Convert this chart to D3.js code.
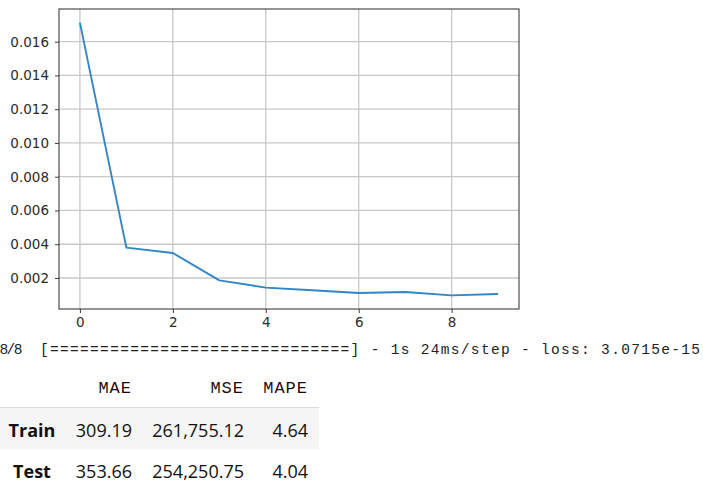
<!DOCTYPE html>
<html><head><meta charset="utf-8">
<script src="https://cdn.jsdelivr.net/npm/d3@7"></script>
<style>
html,body{margin:0;padding:0;background:#fff;overflow:hidden;}
svg{display:block;}
</style></head>
<body>
<svg id="c" width="703" height="488"></svg>
<script>
const epochs = [0,1,2,3,4,5,6,7,8,9];
const loss = [0.01713,0.00380,0.00348,0.00186,0.00143,0.00127,0.00111,0.00117,0.00097,0.00105];
const xTicks = [0,2,4,6,8];
const yTicks = [0.002,0.004,0.006,0.008,0.010,0.012,0.014,0.016];
const progressCount = "8/8";
const progressBar = "[==============================] - 1s 24ms/step - loss: 3.0715e-15";
const columns = ["MAE","MSE","MAPE"];
const rowNames = ["Train","Test"];
const rowValues = [["309.19","261,755.12","4.64"],["353.66","254,250.75","4.04"]];

const svg = d3.select("#c");
const L=59, T=9, R=519, B=309;

const xPad = (d3.max(epochs)-d3.min(epochs))*0.05;
const x = d3.scaleLinear().domain([d3.min(epochs)-xPad, d3.max(epochs)+xPad]).range([L,R]);
const yMin=d3.min(loss), yMax=d3.max(loss), yPad=(yMax-yMin)*0.05;
const y = d3.scaleLinear().domain([yMin-yPad, yMax+yPad]).range([B,T]);

// grid
const g = svg.append("g");
g.selectAll("line.gx").data(xTicks).join("line")
  .attr("x1",d=>x(d)).attr("x2",d=>x(d)).attr("y1",T).attr("y2",B)
  .attr("stroke","#c8c8c8").attr("stroke-width",1.3);
g.selectAll("line.gy").data(yTicks).join("line")
  .attr("y1",d=>y(d)).attr("y2",d=>y(d)).attr("x1",L).attr("x2",R)
  .attr("stroke","#c8c8c8").attr("stroke-width",1.3);

// line
svg.append("path").datum(epochs.map((e,i)=>[e,loss[i]]))
  .attr("fill","none").attr("stroke","#3386c4").attr("stroke-width",1.9)
  .attr("stroke-linejoin","round")
  .attr("d", d3.line().x(d=>x(d[0])).y(d=>y(d[1])));

// frame
svg.append("rect").attr("x",L).attr("y",T).attr("width",R-L).attr("height",B-T)
  .attr("fill","none").attr("stroke","#3c3c3c").attr("stroke-width",1.1);

// axes
const xa = svg.append("g").attr("transform",`translate(0,${B})`)
  .call(d3.axisBottom(x).tickValues(xTicks).tickFormat(d3.format("d")).tickSize(4).tickPadding(4));
const ya = svg.append("g").attr("transform",`translate(${L},0)`)
  .call(d3.axisLeft(y).tickValues(yTicks).tickFormat(d3.format(".3f")).tickSize(4).tickPadding(6));
[xa,ya].forEach(a=>{
  a.select(".domain").remove();
  a.selectAll("line").attr("stroke","#3c3c3c").attr("stroke-width",1);
  a.selectAll("text").attr("fill","#2b2b2b").style("font-family","DejaVu Sans").style("font-size","13.5px");
});

// progress line
const pf = "'Liberation Mono', 'DejaVu Sans Mono', monospace";
svg.append("text").attr("x",-0.5).attr("y",354).text(progressCount)
  .style("font-family",pf).style("font-size","14.5px").attr("fill","#222")
  .style("letter-spacing","-1.6px");
svg.append("text").attr("x",40).attr("y",354).text(progressBar)
  .style("font-family",pf).style("font-size","14.5px").attr("fill","#222")
  .attr("textLength",660).attr("lengthAdjust","spacing");

// table
const colRight = [132,244,308];
const rowBase = [436.5,478];
svg.append("rect").attr("x",0).attr("y",407.5).attr("width",319).attr("height",41.5).attr("fill","#f5f5f5");
svg.append("line").attr("x1",0).attr("x2",319).attr("y1",407.5).attr("y2",407.5)
  .attr("stroke","#dcdcdc").attr("stroke-width",1);
svg.selectAll("text.hd").data(columns).join("text")
  .attr("x",(d,i)=>colRight[i]).attr("y",393).attr("text-anchor","end").text(d=>d)
  .style("font-family",pf).style("font-size","17px").attr("fill","#1e0a0e")
  .style("letter-spacing","1px");
svg.selectAll("text.rn").data(rowNames).join("text")
  .attr("x",32).attr("y",(d,i)=>rowBase[i]).attr("text-anchor","middle").text(d=>d)
  .style("font-family","'Open Sans', 'Noto Sans', sans-serif").style("font-size","18px")
  .style("font-weight","bold").attr("fill","#111");
rowValues.forEach((row,ri)=>{
  svg.selectAll("text.v"+ri).data(row).join("text")
    .attr("x",(d,i)=>colRight[i]).attr("y",rowBase[ri]).attr("text-anchor","end").text(d=>d)
    .style("font-family","'Open Sans', 'Noto Sans', sans-serif").style("font-size","18px")
    .attr("fill","#111");
});
</script>
</body></html>
